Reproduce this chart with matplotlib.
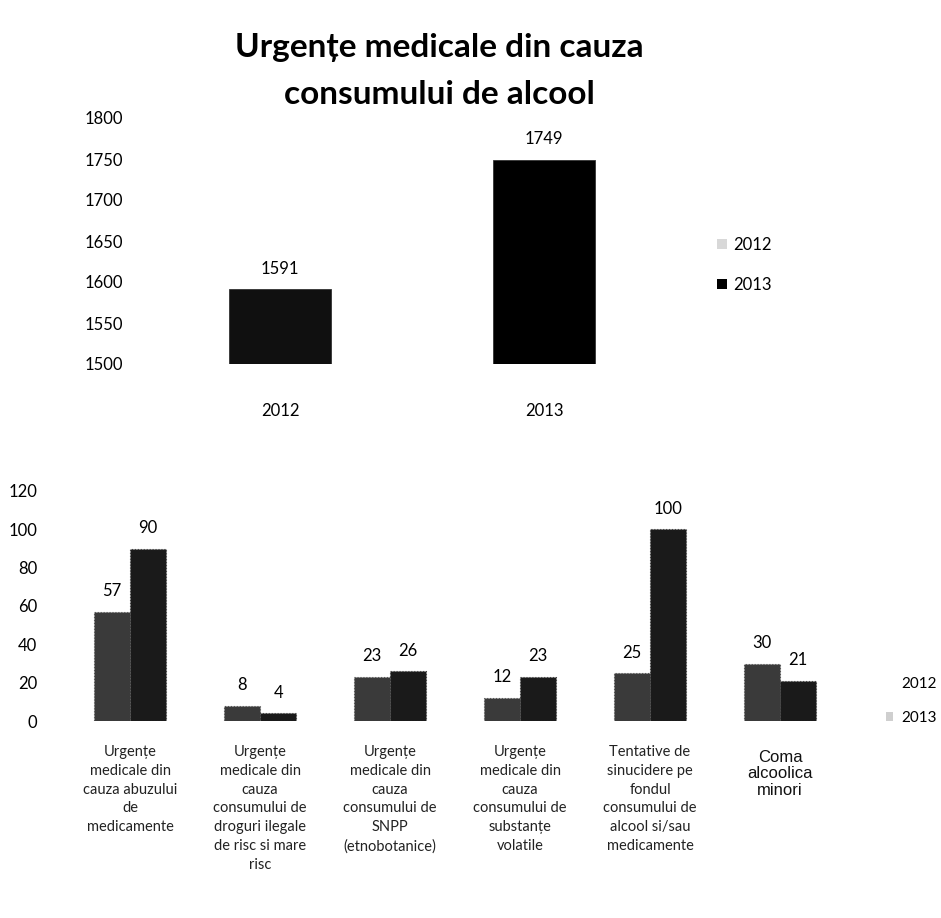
import matplotlib
matplotlib.use("Agg")
import matplotlib.pyplot as plt
from matplotlib.patches import Patch
import numpy as np

# ---- data ----
top_title = "Urgențe medicale din cauza\nconsumului de alcool"
top_years = ["2012", "2013"]
top_values = [1591, 1749]
top_yticks = [1500, 1550, 1600, 1650, 1700, 1750, 1800]

bottom_categories = [
    "Urgențe\nmedicale din\ncauza abuzului\nde\nmedicamente",
    "Urgențe\nmedicale din\ncauza\nconsumului de\ndroguri ilegale\nde risc si mare\nrisc",
    "Urgențe\nmedicale din\ncauza\nconsumului de\nSNPP\n(etnobotanice)",
    "Urgențe\nmedicale din\ncauza\nconsumului de\nsubstanțe\nvolatile",
    "Tentative de\nsinucidere pe\nfondul\nconsumului de\nalcool si/sau\nmedicamente",
    "Coma\nalcoolica\nminori",
]
values_2012 = [57, 8, 23, 12, 25, 30]
values_2013 = [90, 4, 26, 23, 100, 21]
bottom_yticks = [0, 20, 40, 60, 80, 100, 120]
series_labels = ["2012", "2013"]

W, H = 941, 918
fig = plt.figure(figsize=(W / 100, H / 100), dpi=100)
fig.patch.set_facecolor("white")

FONT = ["Lato", "DejaVu Sans"]
NARROW = ["Liberation Sans Narrow", "Lato", "DejaVu Sans"]

def fx(px):
    return px / W

def fy(py):
    return 1 - py / H

# ---------------- top chart ----------------
ax1 = fig.add_axes([fx(148), fy(364), fx(528), (364 - 118) / H])
top_colors = ["#101010", "#000000"]
x_top = np.arange(len(top_years))
ax1.bar(x_top, np.array(top_values) - 1500, bottom=1500, width=0.39,
        color=top_colors, edgecolor="#333333", linewidth=0.6)
ax1.set_xlim(-0.5, 1.5)
ax1.set_ylim(1500, 1800)
ax1.set_yticks(top_yticks)
ax1.set_yticklabels([str(v) for v in top_yticks], family=FONT, fontsize=12)
ax1.set_xticks(x_top)
ax1.set_xticklabels(top_years, family=FONT, fontsize=12)
ax1.tick_params(axis="y", length=0, pad=18)
ax1.tick_params(axis="x", length=0, pad=28)
for s in ax1.spines.values():
    s.set_visible(False)
for xi, v in zip(x_top, top_values):
    ax1.annotate(str(v), (xi, v), xytext=(0, 9), textcoords="offset points",
                 ha="center", va="bottom", family=FONT, fontsize=12)

fig.text(fx(439), fy(71), top_title, ha="center", va="center",
         family=FONT, fontweight="bold", fontsize=24, linespacing=1.75)

fig.legend(handles=[Patch(facecolor="#d8d8d8", edgecolor="none"),
                    Patch(facecolor="#000000", edgecolor="none")],
           labels=series_labels, loc="center left",
           bbox_to_anchor=(fx(702), fy(265)), frameon=False,
           prop={"family": FONT, "size": 12}, labelspacing=1.45,
           handlelength=0.6, handleheight=0.6, handletextpad=0.4)

# ---------------- bottom chart ----------------
ax2 = fig.add_axes([fx(65), fy(721), fx(780), (721 - 491) / H])
x = np.arange(len(bottom_categories))
bw = 0.28
c2012 = "#3a3a3a"
c2013 = "#1a1a1a"
ax2.bar(x - bw / 2, values_2012, width=bw, color=c2012,
        edgecolor="#555555", linewidth=0.8, linestyle=":")
ax2.bar(x + bw / 2, values_2013, width=bw, color=c2013,
        edgecolor="#444444", linewidth=0.8, linestyle=":")
ax2.set_xlim(-0.5, len(bottom_categories) - 0.5)
ax2.set_ylim(0, 120)
ax2.set_yticks(bottom_yticks)
ax2.set_yticklabels([str(v) for v in bottom_yticks], family=FONT, fontsize=12)
ax2.tick_params(axis="y", length=0, pad=20)
ax2.set_xticks(x)
ax2.set_xticklabels([])
ax2.tick_params(axis="x", length=0)
for s in ax2.spines.values():
    s.set_visible(False)

for xs, vals in ((x - bw / 2, values_2012), (x + bw / 2, values_2013)):
    for xi, v in zip(xs, vals):
        ax2.annotate(str(v), (xi, v), xytext=(0, 9), textcoords="offset points",
                     ha="center", va="bottom", family=FONT, fontsize=12)

# category labels
for i, lab in enumerate(bottom_categories):
    if i == len(bottom_categories) - 1:
        ax2.annotate(lab, (x[i], 0), xytext=(0, -21), textcoords="offset points",
                     ha="center", va="top", family=["Liberation Sans", "DejaVu Sans"],
                     fontsize=12, linespacing=1.1, color="#111111")
    else:
        ax2.annotate(lab, (x[i], 0), xytext=(0, -17), textcoords="offset points",
                     ha="center", va="top", family=NARROW,
                     fontsize=10.5, linespacing=1.45, color="#222222")

fig.legend(handles=[Patch(facecolor="white", edgecolor="none"),
                    Patch(facecolor="#cfcfcf", edgecolor="none")],
           labels=series_labels, loc="center left",
           bbox_to_anchor=(fx(872), fy(701)), frameon=False,
           prop={"family": FONT, "size": 11}, labelspacing=1.3,
           handlelength=0.5, handleheight=0.6, handletextpad=0.5)

fig.savefig("out.png", dpi=100, facecolor="white")
